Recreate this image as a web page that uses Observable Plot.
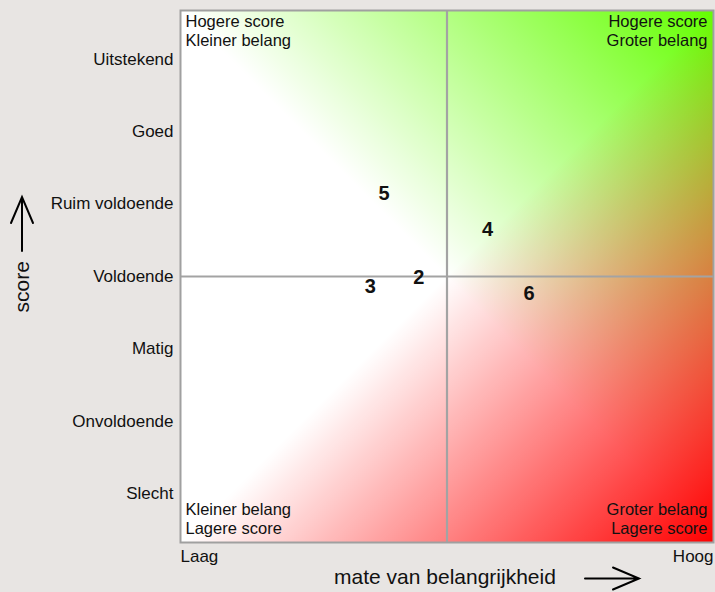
<!DOCTYPE html>
<html><head><meta charset="utf-8">
<script src="https://cdn.jsdelivr.net/npm/d3@7"></script>
<script src="https://cdn.jsdelivr.net/npm/@observablehq/plot@0.6"></script>
<style>
html,body{margin:0;padding:0;background:#e8e5e3;}
svg{display:block;}
</style></head><body><div id="chart"></div>
<script>
const scoreLevels = ["Slecht","Onvoldoende","Matig","Voldoende","Ruim voldoende","Goed","Uitstekend"];
const scoreValues = [1,2,3,4,5,6,7];
const importanceTicks = [0, 10];
const importanceLabels = ["Laag","Hoog"];
const itemLabels = ["2","3","4","5","6"];
const itemImportance = [4.47,3.56,5.76,3.82,6.54];
const itemScore = [3.99,3.86,4.65,5.14,3.77];
const cornerLabels = ["Hogere score\nKleiner belang","Hogere score\nGroter belang","Kleiner belang\nLagere score","Groter belang\nLagere score"];
const xTitle = "mate van belangrijkheid";
const yTitle = "score";
const xMid = 5, yMid = 4;

const items = itemLabels.map((l,i)=>({label:l, x:itemImportance[i], y:itemScore[i]}));

// Two diagonal fades from the plot centre: green toward the top-right corner, red toward the bottom-right corner.
function gradientDefs(index, scales, values, dims) {
  const xr = dims.width - dims.marginRight;
  const yt = dims.marginTop, yb = dims.height - dims.marginBottom;
  const cx = scales.x(xMid), cy = scales.y(yMid);
  const defs = d3.create("svg:defs");
  const mk = (id, y2, color) => {
    const g = defs.append("linearGradient").attr("id", id).attr("gradientUnits","userSpaceOnUse")
      .attr("x1", cx).attr("y1", cy).attr("x2", xr).attr("y2", y2);
    g.append("stop").attr("offset", 0).attr("stop-color", color).attr("stop-opacity", 0);
    g.append("stop").attr("offset", 1).attr("stop-color", color).attr("stop-opacity", 1);
  };
  mk("greenGrad", yt, "#64ff00");
  mk("redGrad", yb, "#ff0000");
  return defs.node();
}

function axisArrows(index, scales, values, dims) {
  const g = d3.create("svg:g").attr("fill","none").attr("stroke","#000").attr("stroke-width",2).attr("stroke-linecap","round");
  const tx = dims.width - 76, ty = dims.height - 13.5;
  g.append("path").attr("d", `M${tx-54},${ty}H${tx}M${tx-26},${ty-11}L${tx},${ty}L${tx-26},${ty+11}`);
  const vx = 22, vy = scales.y(yMid) - 79;
  g.append("path").attr("d", `M${vx},${vy+54}V${vy}M${vx-11},${vy+26}L${vx},${vy}L${vx+11},${vy+26}`);
  return g.node();
}

const cornerStyle = {text: d => d, fontSize: 16.5, lineHeight: 1.1, fill: "#111"};

const plot = Plot.plot({
  width: 715,
  height: 592,
  marginLeft: 180,
  marginRight: 2,
  marginTop: 10,
  marginBottom: 50,
  style: {background: "transparent", fontFamily: "'Liberation Sans', Arial, sans-serif", fontSize: "17px", color: "#111"},
  x: {domain: [importanceTicks[0], importanceTicks[1]]},
  y: {domain: [0.33, 7.67]},
  marks: [
    gradientDefs,
    Plot.frame({fill: "#ffffff"}),
    Plot.frame({fill: "url(#greenGrad)"}),
    Plot.frame({fill: "url(#redGrad)"}),
    Plot.ruleX([xMid], {stroke: "#a3a3a3", strokeWidth: 2.2}),
    Plot.ruleY([yMid], {stroke: "#a3a3a3", strokeWidth: 2.2}),
    Plot.frame({stroke: "#a0a0a0", strokeWidth: 2}),
    Plot.text([cornerLabels[0]], {...cornerStyle, frameAnchor: "top-left", textAnchor: "start", lineAnchor: "top", dx: 5, dy: 4}),
    Plot.text([cornerLabels[1]], {...cornerStyle, frameAnchor: "top-right", textAnchor: "end", lineAnchor: "top", dx: -6, dy: 4}),
    Plot.text([cornerLabels[2]], {...cornerStyle, frameAnchor: "bottom-left", textAnchor: "start", lineAnchor: "bottom", dx: 5, dy: -9}),
    Plot.text([cornerLabels[3]], {...cornerStyle, frameAnchor: "bottom-right", textAnchor: "end", lineAnchor: "bottom", dx: -6, dy: -9}),
    Plot.text(items, {x: "x", y: "y", text: "label", fontWeight: "bold", fontSize: 20, fill: "#111"}),
    Plot.axisY(scoreValues, {tickFormat: d => scoreLevels[d - 1], tickSize: 0, tickPadding: 7, label: null, fill: "#111"}),
    Plot.axisX([importanceTicks[0]], {tickFormat: () => importanceLabels[0], tickSize: 0, tickPadding: 7, textAnchor: "start", label: null, fill: "#111"}),
    Plot.axisX([importanceTicks[1]], {tickFormat: () => importanceLabels[1], tickSize: 0, tickPadding: 7, textAnchor: "end", label: null, fill: "#111"}),
    Plot.text([xTitle], {text: d => d, frameAnchor: "bottom", lineAnchor: "bottom", dx: -2, dy: 41, fontSize: 21, fill: "#111"}),
    Plot.text([yTitle], {text: d => d, frameAnchor: "left", rotate: -90, textAnchor: "start", dx: -158, dy: 36, fontSize: 21, fill: "#111"}),
    axisArrows
  ]
});
document.getElementById("chart").appendChild(plot);
</script>
</body></html>
